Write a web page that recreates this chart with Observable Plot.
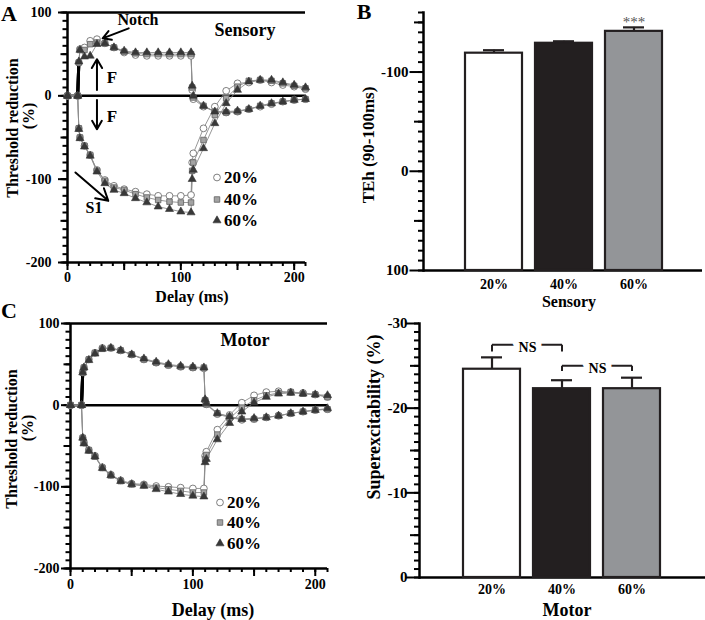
<!DOCTYPE html>
<html>
<head>
<meta charset="utf-8">
<script src="https://cdn.jsdelivr.net/npm/d3@7"></script>
<script src="https://cdn.jsdelivr.net/npm/@observablehq/plot@0.6"></script>
<style>
  body { margin: 0; background: #fff; }
  #fig { position: relative; width: 705px; height: 620px; overflow: hidden;
         font-family: "Liberation Serif", "Times New Roman", serif; font-weight: bold; color: #000; }
  #fig > svg { position: absolute; }
  .lbl { position: absolute; white-space: nowrap; line-height: 1; transform: translate(-50%, -50%); }
  .leg { position: absolute; white-space: nowrap; line-height: 1; display: flex; align-items: center; transform: translateY(-50%); }
</style>
</head>
<body>
<div id="fig"></div>
<script>
const delays = [0, 9, 10, 11, 15, 20, 26, 33, 41, 50, 60, 70, 80, 90, 100, 109, 110, 111, 120, 130, 140, 150, 160, 170, 180, 190, 200, 210];
const levels = ["20%", "40%", "60%"];

// sensory threshold electrotonus (%), depolarizing (TEd) and hyperpolarizing (TEh)
const sensoryTEd20 = [0, 0, 40, 56, 58, 66, 68, 63, 58, 52, 49, 48, 48, 48, 48, 48, 7, -4, -13, -19, -20, -19, -16, -13, -10, -7, -5, -4];
const sensoryTEd40 = [0, 0, 40, 55, 55, 62, 64, 63, 58, 53, 51, 50, 50, 50, 50, 50, 10, -2, -12, -19, -20, -19, -16, -12, -9, -7, -5, -4];
const sensoryTEd60 = [0, 0, 41, 55, 47, 48, 62, 63, 58, 54, 52, 52, 52, 52, 52, 52, 12, 0, -12, -19, -19, -18, -16, -12, -9, -7, -5, -4];
const sensoryTEh20 = [0, 0, -39, -50, -60, -71, -89, -101, -108, -112, -115, -118, -120, -120, -120, -119, -80, -69, -39, -13, 6, 15, 16, 19, 16, 13, 11, 8];
const sensoryTEh40 = [0, 0, -39, -50, -60, -71, -90, -102, -110, -113, -118, -122, -125, -127, -128, -128, -90, -80, -53, -23, -3, 11, 18, 19, 18, 15, 12, 9];
const sensoryTEh60 = [0, 0, -40, -51, -61, -72, -91, -105, -113, -117, -123, -128, -133, -136, -139, -140, -100, -89, -63, -33, -9, 7, 17, 19, 19, 16, 13, 10];

// motor threshold electrotonus (%)
const motorTEd20 = [0, 0, 40, 46, 56, 64, 70, 70, 67, 62, 56, 52, 49, 47, 46, 45, 6, 1, -11, -15, -18, -17, -15, -13, -10, -8, -6, -5];
const motorTEd40 = [0, 0, 40, 46, 56, 64, 69, 70, 67, 62, 56, 52, 49, 47, 46, 46, 6, 1, -10, -14, -17, -17, -15, -13, -10, -8, -6, -5];
const motorTEd60 = [0, 0, 40, 46, 55, 63, 69, 70, 67, 62, 57, 53, 50, 48, 47, 46, 7, 2, -10, -14, -17, -16, -15, -13, -10, -8, -6, -4];
const motorTEh20 = [0, 0, -40, -46, -55, -62, -76, -85, -92, -96, -97, -99, -100, -101, -102, -102, -62, -57, -30, -12, 3, 12, 16, 17, 16, 15, 13, 10];
const motorTEh40 = [0, 0, -40, -46, -55, -63, -77, -86, -93, -97, -98, -101, -103, -105, -107, -107, -66, -61, -36, -16, -3, 6, 12, 15, 16, 14, 13, 10];
const motorTEh60 = [0, 0, -40, -47, -56, -63, -77, -86, -93, -97, -99, -103, -106, -109, -111, -112, -70, -66, -42, -22, -8, 3, 10, 14, 15, 14, 13, 12];

// bar panels: mean and SEM per stimulus level
const sensoryTEh90 = [-119, -129, -141];
const sensoryTEh90Sem = [3, 2, 4];
const sensorySig = ["", "", "***"];
const motorSuperex = [-24.6, -22.3, -22.3];
const motorSuperexSem = [1.4, 1.0, 1.3];
const barFills = ["#ffffff", "#231f20", "#939598"];

const fig = document.getElementById("fig");
const baseStyle = "font-family:'Liberation Serif','Times New Roman',serif;font-weight:bold;color:#000;background:transparent;overflow:visible;";

const symStyle = {
  "20%": {symbol: "circle", fill: "white", stroke: "#707070", strokeWidth: 0.9, r: 3.4},
  "40%": {symbol: "square", fill: "#a3a3a3", stroke: "#6a6a6a", strokeWidth: 0.9, r: 3.1},
  "60%": {symbol: "triangle", fill: "#383838", stroke: "#383838", strokeWidth: 0.6, r: 3.0}
};
const d3Sym = {circle: d3.symbolCircle, square: d3.symbolSquare, triangle: d3.symbolTriangle};

// tick marks drawn as short rules just outside the frame
const yTicks = (values, len, frameW) =>
  Plot.tickY(values, {y: d => d, insetRight: frameW - len, dx: -len, strokeWidth: 2, stroke: "black"});
const xTicks = (values, len, frameH) =>
  Plot.tickX(values, {x: d => d, insetTop: frameH - len, dy: len, strokeWidth: 2, stroke: "black"});

function teRows(ted, teh) {
  const rows = [];
  levels.forEach((lv, k) => {
    ted[k].forEach((v, i) => rows.push({level: lv, curve: "TEd", d: delays[i], v}));
    teh[k].forEach((v, i) => rows.push({level: lv, curve: "TEh", d: delays[i], v}));
  });
  return rows;
}

function place(chart, left, top) {
  chart.style.left = left + "px";
  chart.style.top = top + "px";
  fig.appendChild(chart);
}

function label(text, x, y, size, opts = {}) {
  const el = document.createElement("div");
  el.className = "lbl";
  el.textContent = text;
  el.style.left = x + "px";
  el.style.top = y + "px";
  el.style.fontSize = size + "px";
  if (opts.rotate) el.style.transform = "translate(-50%, -50%) rotate(-90deg)";
  fig.appendChild(el);
}

function legend(x, ys) {
  levels.forEach((lv, i) => {
    const s = symStyle[lv];
    const path = d3.symbol(d3Sym[s.symbol], Math.PI * s.r * s.r)();
    const el = document.createElement("div");
    el.className = "leg";
    el.style.left = (x - 6) + "px";
    el.style.top = ys[i] + "px";
    el.style.fontSize = "17px";
    el.innerHTML = `<svg width="12" height="12" viewBox="-6 -6 12 12" style="margin-right:1px"><path d="${path}" fill="${s.fill}" stroke="${s.stroke}" stroke-width="${s.strokeWidth}"/></svg><span>${lv}</span>`;
    fig.appendChild(el);
  });
}

function tePanel(rows, box, extra) {
  const fw = box.w - box.ml - box.mr, fh = box.h - box.mt - box.mb;
  const chart = Plot.plot({
    width: box.w, height: box.h,
    marginLeft: box.ml, marginRight: box.mr, marginTop: box.mt, marginBottom: box.mb,
    style: baseStyle + "font-size:14px;",
    x: {domain: [0, 210]},
    y: {domain: [-200, 100]},
    marks: [
      xTicks(d3.range(0, 211, 10), 4, fh),
      xTicks(d3.range(0, 211, 50), 8, fh),
      yTicks(d3.range(-200, 101, 10), 4.5, fw),
      yTicks(d3.range(-200, 101, 50), 6.5, fw),
      yTicks(d3.range(-200, 101, 100), 9, fw),
      Plot.axisX({ticks: [0, 100, 200], tickSize: 0, tickPadding: box.xPad, tickFormat: d => String(d), label: null}),
      Plot.axisY({ticks: [-200, -100, 0, 100], tickSize: 0, tickPadding: box.yPad, tickFormat: d => String(d), label: null}),
      Plot.ruleY([-200, 0, 100], {strokeWidth: 2.5}),
      Plot.ruleX([0], {strokeWidth: 2.5}),
      Plot.line(rows, {x: "d", y: "v", z: d => d.level + d.curve, stroke: "#8c8c8c", strokeWidth: 0.9}),
      Plot.line(rows.filter(r => r.curve === "TEd" && (r.d === 9 || r.d === 10)), {x: "d", y: "v", z: "level", stroke: "black", strokeWidth: 3}),
      ...levels.map(lv => Plot.dot(rows.filter(r => r.level === lv), {x: "d", y: "v", ...symStyle[lv]})),
      ...extra
    ]
  });
  place(chart, box.left, box.top);
}

function barPanel(cfg) {
  const rows = levels.map((lv, i) => ({
    level: lv, mean: cfg.means[i], top: cfg.means[i] - cfg.sems[i], fill: barFills[i], sig: cfg.sig ? cfg.sig[i] : ""
  }));
  const base = cfg.yDomain[0];
  const fw = cfg.w - cfg.ml - cfg.mr;
  const chart = Plot.plot({
    width: cfg.w, height: cfg.h,
    marginLeft: cfg.ml, marginRight: cfg.mr, marginTop: cfg.mt, marginBottom: cfg.mb,
    style: baseStyle + "font-size:15px;",
    color: {type: "identity"},
    x: {domain: levels, range: cfg.xRange, paddingInner: cfg.pad, paddingOuter: 0},
    y: {domain: cfg.yDomain},
    marks: [
      yTicks(cfg.minor, 5, fw),
      yTicks(cfg.mid, 9, fw),
      yTicks(cfg.major, 13.5, fw),
      Plot.axisY({ticks: cfg.major, tickSize: 0, tickPadding: cfg.yPad, tickFormat: d => String(d), label: null}),
      Plot.axisX({tickSize: 0, tickPadding: cfg.xPad, label: null, fontSize: 14}),
      Plot.frame({anchor: "left", strokeWidth: 2.5}),
      Plot.ruleY([base], {strokeWidth: 2.5}),
      Plot.barY(rows, {x: "level", y1: base, y2: "mean", fill: "fill", stroke: "#231f20", strokeWidth: 2.2}),
      Plot.ruleX(rows, {x: "level", y1: "mean", y2: "top", stroke: "#231f20", strokeWidth: 2.2}),
      Plot.tickY(rows, {x: "level", y: "top", insetLeft: 18, insetRight: 18, stroke: "#231f20", strokeWidth: 2.2}),
      ...(cfg.extra ? cfg.extra(rows) : [])
    ]
  });
  place(chart, cfg.left, cfg.top);
}

// A: sensory threshold electrotonus
tePanel(teRows([sensoryTEd20, sensoryTEd40, sensoryTEd60], [sensoryTEh20, sensoryTEh40, sensoryTEh60]),
  {left: 0, top: 0, w: 340, h: 300, ml: 67, mr: 35, mt: 12, mb: 38, xPad: 10, yPad: 16},
  [Plot.arrow([
    {x1: 54, y1: 81, x2: 31, y2: 69},
    {x1: 26, y1: 7, x2: 26, y2: 44},
    {x1: 26, y1: -5, x2: 26, y2: -40},
    {x1: 7, y1: -92, x2: 36, y2: -126}
  ], {x1: "x1", y1: "y1", x2: "x2", y2: "y2", strokeWidth: 2, headLength: 10, stroke: "black"})]);

// C: motor threshold electrotonus
tePanel(teRows([motorTEd20, motorTEd40, motorTEd60], [motorTEh20, motorTEh40, motorTEh60]),
  {left: 0, top: 300, w: 340, h: 320, ml: 70, mr: 13, mt: 23, mb: 52, xPad: 11, yPad: 11}, []);

// B: sensory TEh (90-100ms)
barPanel({
  left: 340, top: 0, w: 365, h: 310, ml: 83, mr: 3, mt: 12, mb: 40,
  means: sensoryTEh90, sems: sensoryTEh90Sem, sig: sensorySig,
  yDomain: [100, -160], xRange: [125, 322], pad: 0.186, xPad: 9, yPad: 15,
  minor: d3.range(-160, 101, 10), mid: [-150, -50, 50], major: [-100, 0, 100],
  extra: rows => [Plot.text(rows.filter(r => r.sig), {x: "level", y: "top", text: "sig", dy: -5, fontSize: 15, fontWeight: "normal", fill: "#555"})]
});

// D: motor superexcitability
const brackets = [
  {a: "20%", b: "40%", y: -27.5, leg: -26.7},
  {a: "40%", b: "60%", y: -25.0, leg: -24.4}
];
barPanel({
  left: 340, top: 310, w: 365, h: 310, ml: 79, mr: 0, mt: 13, mb: 43,
  means: motorSuperex, sems: motorSuperexSem,
  yDomain: [0, -30], xRange: [122, 322], pad: 0.183, xPad: 7, yPad: 12,
  minor: d3.range(-30, 1, 1), mid: [-25, -15, -5], major: [-30, -20, -10, 0],
  extra: () => [
    Plot.link(brackets, {x1: "a", x2: "b", y1: "y", y2: "y", strokeWidth: 2, stroke: "#231f20"}),
    Plot.link(brackets, {x1: "a", x2: "a", y1: "y", y2: "leg", strokeWidth: 2, stroke: "#231f20"}),
    Plot.link(brackets, {x1: "b", x2: "b", y1: "y", y2: "leg", strokeWidth: 2, stroke: "#231f20"}),
    Plot.text(brackets, {x: "a", y: "y", dx: 35.5, dy: 3, text: () => "NS", fill: "black", stroke: "white", strokeWidth: 12, fontSize: 14})
  ]
});

// text
label("A", 9, 14, 22);
label("B", 364, 12, 22);
label("C", 9, 311, 22);
label("Sensory", 245, 30, 18);
label("Notch", 138, 20, 16);
label("F", 112, 77, 17);
label("F", 112, 116, 17);
label("S1", 94, 208, 16);
label("Delay (ms)", 192, 297, 16);
label("Threshold reduction", 13, 128, 16, {rotate: true});
label("(%)", 29, 116, 16, {rotate: true});
label("Motor", 245, 340, 18);
label("Delay (ms)", 213, 610, 18);
label("Threshold reduction", 12, 439, 16, {rotate: true});
label("(%)", 28, 428, 16, {rotate: true});
label("TEh (90-100ms)", 368, 145, 17, {rotate: true});
label("Sensory", 569, 302, 16);
label("Superexcitability (%)", 374, 417, 18, {rotate: true});
label("Motor", 567, 610, 18);
legend(217, [177, 199, 220]);
legend(220, [502, 522, 543]);
</script>
</body>
</html>
